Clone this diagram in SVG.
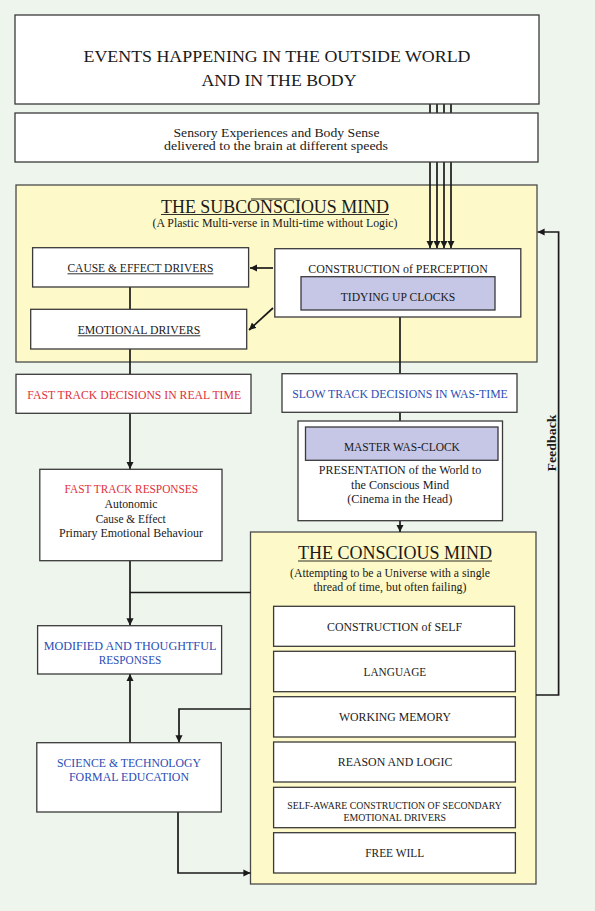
<svg xmlns="http://www.w3.org/2000/svg" width="595" height="911" viewBox="0 0 595 911">
<defs>
<marker id="ah" viewBox="0 0 10 10" refX="10" refY="5" markerWidth="4.2" markerHeight="4.2" orient="auto" markerUnits="strokeWidth">
<path d="M0,0 L10,5 L0,10 z" fill="#1a1a1a"/>
</marker>
<style>
.bx{fill:#ffffff;stroke:#3a3a3a;stroke-width:1.3}
.yl{fill:#fef9c8;stroke:#4a4a4a;stroke-width:1.3}
.pu{fill:#c6c6e6;stroke:#3a3a3a;stroke-width:1.3}
.t{font-family:"Liberation Serif","DejaVu Serif",serif;fill:#1a1a1a;text-anchor:middle}
.red{fill:#e0303c}
.blue{fill:#2a4db5}
.ul{stroke:#1a1a1a;stroke-width:0.9}
.c{fill:none;stroke:#1a1a1a;stroke-width:1.7}
.ca{fill:none;stroke:#1a1a1a;stroke-width:1.7;marker-end:url(#ah)}
</style>
</defs>
<rect x="0" y="0" width="595" height="911" fill="#eef5ec"/>

<g id="subconscious-mind">
<rect class="yl" x="16" y="185" width="521" height="177"/>
<text class="t" x="275" y="213" font-size="19" textLength="228" lengthAdjust="spacingAndGlyphs">THE SUBCONSCIOUS MIND</text>
<line class="ul" x1="161" y1="214.5" x2="389" y2="214.5"/>
<line class="ul" x1="251" y1="199" x2="300" y2="199"/>
<text class="t" x="275" y="226.5" font-size="12.5" textLength="245" lengthAdjust="spacingAndGlyphs">(A Plastic Multi-verse in Multi-time without Logic)</text>
</g>

<g id="conscious-mind">
<rect class="yl" x="250.5" y="532" width="285.5" height="352"/>
<text class="t" x="395" y="559" font-size="19.5" textLength="194" lengthAdjust="spacingAndGlyphs">THE CONSCIOUS MIND</text>
<line class="ul" x1="298" y1="561" x2="492" y2="561"/>
<text class="t" x="390" y="576.5" font-size="12.5" textLength="200" lengthAdjust="spacingAndGlyphs">(Attempting to be a Universe with a single</text>
<text class="t" x="390" y="590.5" font-size="12.5" textLength="153" lengthAdjust="spacingAndGlyphs">thread of time, but often failing)</text>
</g>

<g id="connectors">
<line class="c" x1="430" y1="104" x2="430" y2="113"/>
<line class="c" x1="437" y1="104" x2="437" y2="113"/>
<line class="c" x1="444" y1="104" x2="444" y2="113"/>
<line class="c" x1="451" y1="104" x2="451" y2="113"/>
<line class="ca" x1="430" y1="162" x2="430" y2="248"/>
<line class="ca" x1="437" y1="162" x2="437" y2="248"/>
<line class="ca" x1="444" y1="162" x2="444" y2="248"/>
<line class="ca" x1="451" y1="162" x2="451" y2="248"/>
<line class="ca" x1="273" y1="268" x2="250" y2="268"/>
<line class="ca" x1="273" y1="308" x2="249" y2="330"/>
<line class="c" x1="130" y1="287" x2="130" y2="309"/>
<line class="c" x1="130" y1="349" x2="130" y2="374"/>
<line class="c" x1="400" y1="317" x2="400" y2="374"/>
<line class="ca" x1="130" y1="413" x2="130" y2="469"/>
<line class="c" x1="400" y1="412" x2="400" y2="421"/>
<line class="ca" x1="400" y1="521" x2="400" y2="532"/>
<line class="ca" x1="130" y1="561" x2="130" y2="625.5"/>
<line class="c" x1="250.5" y1="592.5" x2="130" y2="592.5"/>
<line class="ca" x1="130" y1="742.5" x2="130" y2="674"/>
<polyline class="ca" points="250.5,709 179,709 179,742.5"/>
<polyline class="ca" points="178,812 178,873 250.5,873"/>
<polyline class="ca" points="536,695 558.6,695 558.6,232 537.5,232"/>
</g>

<g id="feedback-label">
<text class="t" transform="translate(556 443) rotate(-90)" font-size="12.5" font-weight="bold" textLength="57" lengthAdjust="spacingAndGlyphs">Feedback</text>
</g>

<g id="events">
<rect class="bx" x="15" y="15" width="524" height="89"/>
<text class="t" x="277" y="62" font-size="17.5" textLength="387" lengthAdjust="spacingAndGlyphs">EVENTS HAPPENING IN THE OUTSIDE WORLD</text>
<text class="t" x="279" y="86" font-size="17.5" textLength="155" lengthAdjust="spacingAndGlyphs">AND IN THE BODY</text>
</g>

<g id="sensory">
<rect class="bx" x="15" y="113" width="523" height="49"/>
<text class="t" x="276.5" y="136.5" font-size="13" textLength="206" lengthAdjust="spacingAndGlyphs">Sensory Experiences and Body Sense</text>
<text class="t" x="276" y="150" font-size="13" textLength="224" lengthAdjust="spacingAndGlyphs">delivered to the brain at different speeds</text>
</g>

<g id="cause-effect">
<rect class="bx" x="32.6" y="247.7" width="216" height="39.3"/>
<text class="t" x="140.4" y="271.7" font-size="12" textLength="146" lengthAdjust="spacingAndGlyphs">CAUSE &amp; EFFECT DRIVERS</text>
<line class="ul" x1="67.5" y1="273.8" x2="213.3" y2="273.8"/>
</g>

<g id="emotional-drivers">
<rect class="bx" x="30.7" y="309.3" width="216" height="39.7"/>
<text class="t" x="139" y="333.7" font-size="12" textLength="122.6" lengthAdjust="spacingAndGlyphs">EMOTIONAL DRIVERS</text>
<line class="ul" x1="77.8" y1="335.8" x2="200.4" y2="335.8"/>
</g>

<g id="construction-perception">
<rect class="bx" x="274.8" y="248.7" width="246" height="68.3"/>
<text class="t" x="398" y="272.7" font-size="12" textLength="179.5" lengthAdjust="spacingAndGlyphs">CONSTRUCTION of  PERCEPTION</text>
<g id="tidying-clocks">
<rect class="pu" x="301" y="276.7" width="194" height="33.3"/>
<text class="t" x="398" y="300.7" font-size="12" textLength="114.6" lengthAdjust="spacingAndGlyphs">TIDYING UP CLOCKS</text>
</g>
</g>

<g id="fast-decisions">
<rect class="bx" x="16" y="374.3" width="235" height="39"/>
<text class="t red" x="134.2" y="399" font-size="13" textLength="213.7" lengthAdjust="spacingAndGlyphs">FAST TRACK DECISIONS IN REAL TIME</text>
</g>

<g id="slow-decisions">
<rect class="bx" x="282" y="373.7" width="235" height="38.6"/>
<text class="t blue" x="400" y="398.3" font-size="13" textLength="215.6" lengthAdjust="spacingAndGlyphs">SLOW TRACK DECISIONS IN WAS-TIME</text>
</g>

<g id="presentation">
<rect class="bx" x="298" y="421" width="204.5" height="99.7"/>
<g id="master-clock">
<rect class="pu" x="305.5" y="427" width="192.5" height="33.3"/>
<text class="t" x="401.9" y="451" font-size="12.5" textLength="116" lengthAdjust="spacingAndGlyphs">MASTER WAS-CLOCK</text>
</g>
<text class="t" x="400" y="474" font-size="13" textLength="162.4" lengthAdjust="spacingAndGlyphs">PRESENTATION of the World to</text>
<text class="t" x="400" y="488.7" font-size="13" textLength="98" lengthAdjust="spacingAndGlyphs">the Conscious Mind</text>
<text class="t" x="399.7" y="502.7" font-size="13" textLength="105" lengthAdjust="spacingAndGlyphs">(Cinema in the Head)</text>
</g>

<g id="fast-responses">
<rect class="bx" x="39.8" y="469.3" width="182.2" height="91.4"/>
<text class="t red" x="131.3" y="493.3" font-size="13" textLength="133.6" lengthAdjust="spacingAndGlyphs">FAST TRACK RESPONSES</text>
<text class="t" x="131" y="508.3" font-size="13" textLength="53" lengthAdjust="spacingAndGlyphs">Autonomic</text>
<text class="t" x="130.7" y="522.7" font-size="13" textLength="70" lengthAdjust="spacingAndGlyphs">Cause &amp; Effect</text>
<text class="t" x="131" y="536.7" font-size="13" textLength="144" lengthAdjust="spacingAndGlyphs">Primary Emotional Behaviour</text>
</g>

<g id="modified-responses">
<rect class="bx" x="37.6" y="625.7" width="184" height="48.3"/>
<text class="t blue" x="130" y="650" font-size="12.5" textLength="172.7" lengthAdjust="spacingAndGlyphs">MODIFIED AND THOUGHTFUL</text>
<text class="t blue" x="130" y="664" font-size="12.5" textLength="62.6" lengthAdjust="spacingAndGlyphs">RESPONSES</text>
</g>

<g id="science">
<rect class="bx" x="36.8" y="742.7" width="184.5" height="69.3"/>
<text class="t blue" x="129" y="767.3" font-size="12.5" textLength="144" lengthAdjust="spacingAndGlyphs">SCIENCE &amp; TECHNOLOGY</text>
<text class="t blue" x="129" y="781.3" font-size="12.5" textLength="120" lengthAdjust="spacingAndGlyphs">FORMAL EDUCATION</text>
</g>

<g id="self">
<rect class="bx" x="273.6" y="606.3" width="241" height="40"/>
<text class="t" x="394.6" y="630.7" font-size="12" textLength="135" lengthAdjust="spacingAndGlyphs">CONSTRUCTION of  SELF</text>
</g>

<g id="language">
<rect class="bx" x="273.6" y="651.3" width="241.8" height="40.4"/>
<text class="t" x="394.9" y="675.7" font-size="12" textLength="62.6" lengthAdjust="spacingAndGlyphs">LANGUAGE</text>
</g>

<g id="working-memory">
<rect class="bx" x="273.6" y="696.7" width="241.8" height="40.3"/>
<text class="t" x="395" y="720.7" font-size="12" textLength="112" lengthAdjust="spacingAndGlyphs">WORKING MEMORY</text>
</g>

<g id="reason">
<rect class="bx" x="273.6" y="742" width="241.8" height="40"/>
<text class="t" x="395.1" y="766.3" font-size="12" textLength="114.6" lengthAdjust="spacingAndGlyphs">REASON AND LOGIC</text>
</g>

<g id="self-aware">
<rect class="bx" x="273.6" y="787.3" width="241.8" height="40.4"/>
<text class="t" x="394.5" y="809.3" font-size="10" textLength="214.4" lengthAdjust="spacingAndGlyphs">SELF-AWARE CONSTRUCTION OF SECONDARY</text>
<text class="t" x="394.7" y="820.7" font-size="10" textLength="102.5" lengthAdjust="spacingAndGlyphs">EMOTIONAL DRIVERS</text>
</g>

<g id="free-will">
<rect class="bx" x="273.6" y="832.7" width="241.8" height="40.3"/>
<text class="t" x="394.7" y="857" font-size="12" textLength="59" lengthAdjust="spacingAndGlyphs">FREE WILL</text>
</g>
</svg>
